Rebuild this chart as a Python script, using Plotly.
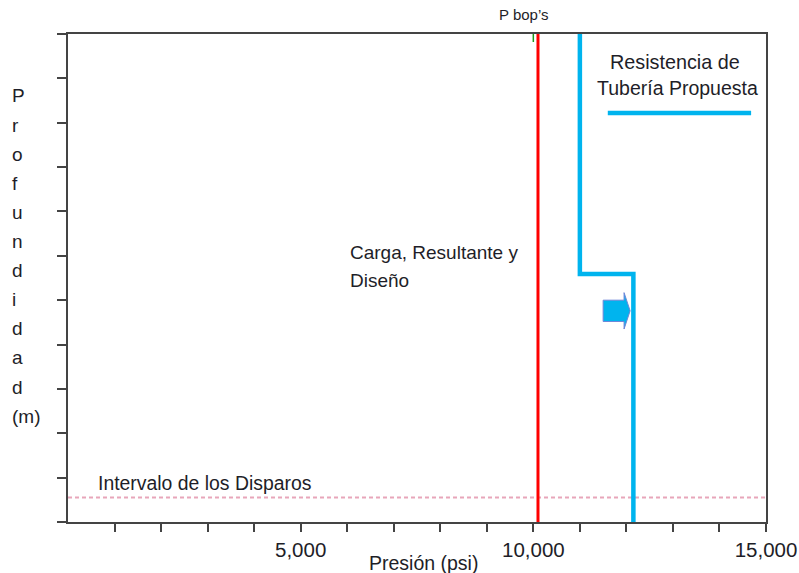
import plotly.graph_objects as go

# ---- data -------------------------------------------------------------
depth_max = 5500                     # m
depth_ticks = list(range(0, depth_max + 1, 500))
pressure_ticks = list(range(1000, 15001, 1000))
pressure_labels = ["5,000" if p == 5000 else "10,000" if p == 10000 else "15,000" if p == 15000 else ""
                   for p in pressure_ticks]

# Carga / Resultante / Diseño (psi)
load_pressure = [10100, 10100]
load_depth = [0, depth_max]

# Resistencia de tubería propuesta (stepped profile)
pipe_pressure = [11000, 11000, 12150, 12150]
pipe_depth = [0, 2705, 2705, depth_max]

# Intervalo de los disparos
shot_depth = 5225

# P bop's marker
pbop_pressure = 10000

# legend sample line for the pipe strength
legend_pressure = [11600, 14680]
legend_depth = [890, 890]

# block arrow on the lower pipe segment
arrow_tail = 11500
arrow_neck = 11950
arrow_tip = 12080
arrow_mid = 3120
arrow_body_half = 120
arrow_head_half = 205

FONT = "Liberation Sans, Arial, sans-serif"
TXT = "#1e1e28"
AX = "#444444"
BLUE = "#00B4EE"
RED = "#FF0000"

fig = go.Figure()

# perforation interval (dashed)
fig.add_trace(go.Scatter(x=[0, 15000], y=[shot_depth, shot_depth], mode="lines",
                         line=dict(color="#E8A6BA", width=2, dash="4px,3px"),
                         hoverinfo="skip", cliponaxis=False))

# load line
fig.add_trace(go.Scatter(x=load_pressure, y=load_depth, mode="lines",
                         line=dict(color=RED, width=3), hoverinfo="skip"))

# pipe strength
fig.add_trace(go.Scatter(x=pipe_pressure, y=pipe_depth, mode="lines",
                         line=dict(color=BLUE, width=4.5), hoverinfo="skip"))

# legend sample
fig.add_trace(go.Scatter(x=legend_pressure, y=legend_depth, mode="lines",
                         line=dict(color=BLUE, width=4.5), hoverinfo="skip"))

# P bop's marker tick
fig.add_trace(go.Scatter(x=[pbop_pressure, pbop_pressure], y=[0, 90], mode="lines",
                         line=dict(color="#1a9a1a", width=1.5), hoverinfo="skip"))

# block arrow
ax_ = [arrow_tail, arrow_neck, arrow_neck, arrow_tip, arrow_neck, arrow_neck, arrow_tail, arrow_tail]
ay_ = [arrow_mid - arrow_body_half, arrow_mid - arrow_body_half, arrow_mid - arrow_head_half,
       arrow_mid, arrow_mid + arrow_head_half, arrow_mid + arrow_body_half,
       arrow_mid + arrow_body_half, arrow_mid - arrow_body_half]
fig.add_trace(go.Scatter(x=ax_, y=ay_, mode="lines", fill="toself", fillcolor=BLUE,
                         line=dict(color="#6f86d8", width=1), hoverinfo="skip"))

annotations = [
    dict(text="Carga, Resultante y", x=6017, y=2460, xanchor="left", yanchor="middle", size=19),
    dict(text="Diseño", x=6017, y=2773, xanchor="left", yanchor="middle", size=19),
    dict(text="Resistencia de", x=13050, y=316, xanchor="center", yanchor="middle", size=19.8),
    dict(text="Tubería Propuesta", x=13090, y=609, xanchor="center", yanchor="middle", size=19.5),
    dict(text="Intervalo de los Disparos", x=600, y=5060, xanchor="left", yanchor="middle", size=19.4),
]
for a in annotations:
    size = a.pop("size")
    a.update(xref="x", yref="y", showarrow=False, font=dict(family=FONT, size=size, color=TXT))

annotations.append(dict(text="P bop’s", xref="x", yref="paper", x=9800, y=1.039,
                        xanchor="center", yanchor="middle", showarrow=False,
                        font=dict(family=FONT, size=15, color=TXT)))
annotations.append(dict(text="Presión (psi)", xref="paper", yref="paper", x=0.51, y=-0.083,
                        xanchor="center", yanchor="middle", showarrow=False,
                        font=dict(family=FONT, size=19.5, color=TXT)))

# vertical stacked axis title
title_chars = list("Profundidad") + ["(m)"]
for i, ch in enumerate(title_chars):
    py = 96 + 29.1 * i
    annotations.append(dict(text=ch, xref="paper", yref="paper", x=-0.083, y=(522 - py) / 488,
                            xanchor="left", yanchor="middle", showarrow=False,
                            font=dict(family=FONT, size=19, color=TXT)))

fig.update_layout(
    width=799, height=573,
    margin=dict(l=68, r=33, t=34, b=51),
    paper_bgcolor="white", plot_bgcolor="white",
    showlegend=False,
    annotations=annotations,
    xaxis=dict(range=[0, 15000], showgrid=False, zeroline=False, showline=True, automargin=False,
               linecolor=AX, linewidth=2, mirror=True, ticks="outside", ticklen=8,
               tickwidth=2, tickcolor=AX, tickvals=pressure_ticks, ticktext=pressure_labels,
               ticklabelstandoff=0,
               tickfont=dict(family=FONT, size=20.5, color=TXT)),
    yaxis=dict(range=[depth_max, 0], showgrid=False, zeroline=False, showline=True, automargin=False,
               linecolor=AX, linewidth=2, mirror=True, ticks="outside", ticklen=9,
               tickwidth=2, tickcolor=AX, tickvals=depth_ticks, showticklabels=False),
)

fig.write_html("out.html")
